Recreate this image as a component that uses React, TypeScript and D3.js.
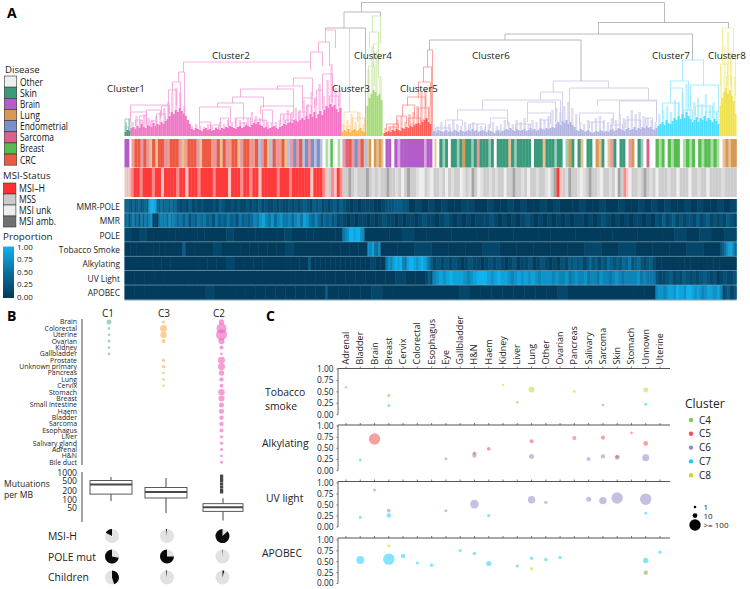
import React from "react";
import * as d3 from "d3";

const FONT = "'Open Sans', sans-serif";

// ---------- Panel A data ----------
const clusterColors = ["#3f9a7a", "#f272c4", "#fdb54e", "#a3dc72", "#ff5f57", "#b4b4e0", "#4ddcfb", "#efe24e"];
const clusterLight = ["#7fc0a8", "#f59ed8", "#fbd08e", "#c4e6a0", "#fb8f8a", "#c6c6e8", "#93e8fb", "#f3ea86"];
const clusterNames = ["Cluster1", "Cluster2", "Cluster3", "Cluster4", "Cluster5", "Cluster6", "Cluster7", "Cluster8"];
const clusterSpans = [[124, 130], [130, 341], [341, 365], [366, 382], [383, 431], [431, 657], [657, 719], [719, 736]];

const solidHeights = [
  [4, 6, 5],
  [8, 9, 7, 10, 8, 12, 9, 8, 11, 10, 9, 13, 10, 12, 11, 14, 12, 15, 17, 20, 24, 22, 26, 24, 28, 25, 22, 20, 16, 12, 7, 6, 8, 7, 6, 5, 7, 8, 6, 7, 5, 6, 8, 7, 6, 8, 7, 9, 8, 10, 9, 8, 7, 9, 10, 8, 9, 11, 10, 9, 11, 13, 12, 14, 11, 10, 8, 9, 7, 8, 9, 10, 8, 7, 9, 10, 12, 11, 13, 14, 13, 16, 15, 14, 16, 18, 16, 20, 17, 22, 19, 24, 18, 22, 25, 21, 26, 30, 28, 32, 29, 31, 27, 24, 28],
  [4, 6, 5, 7, 4, 6, 7, 5, 6, 8, 5, 4],
  [30, 38, 42, 46, 44, 40, 42, 36],
  [3, 4, 5, 4, 6, 5, 7, 6, 5, 8, 7, 9, 8, 10, 9, 11, 12, 13, 11, 14, 16, 18, 14, 12],
  [4, 5, 4, 6, 5, 4, 5, 6, 4, 5, 4, 6, 5, 4, 6, 5, 4, 5, 6, 5, 7, 5, 6, 4, 5, 6, 5, 4, 6, 5, 4, 3, 5, 6, 4, 5, 6, 7, 6, 8, 6, 5, 7, 6, 5, 6, 7, 5, 6, 8, 6, 7, 5, 6, 8, 7, 6, 8, 7, 8, 9, 8, 12, 14, 11, 15, 13, 16, 12, 14, 11, 9, 6, 5, 7, 6, 4, 5, 6, 4, 3, 4, 5, 4, 6, 5, 4, 5, 4, 6, 7, 5, 6, 8, 7, 6, 5, 7, 8, 6, 7, 9, 6, 8, 7, 9, 8, 10, 8, 9, 7, 6, 8],
  [10, 12, 14, 11, 16, 13, 12, 15, 18, 16, 20, 17, 22, 18, 24, 20, 17, 14, 16, 19, 14, 18, 16, 20, 15, 18, 16, 14, 17, 15, 12],
  [30, 38, 44, 48, 42, 46, 40, 35, 22],
];
const paleHeights = [
  [14, 17],
  [14, 20, 16, 22, 18, 16, 20, 24, 28, 34, 44, 48, 44, 30, 16, 10, 12, 10, 9, 12, 10, 9, 14, 12, 16, 14, 18, 16, 14, 18, 24, 20, 18, 16, 14, 14, 14, 16, 22, 26, 24, 28, 26, 36, 32, 44, 38, 52, 40, 56, 72, 48, 46],
  [12, 16, 22, 14, 24, 12],
  [66, 90, 84, 60],
  [8, 10, 12, 16, 20, 14, 22, 24, 30, 44, 46, 30],
  [12, 10, 14, 10, 12, 16, 12, 10, 14, 12, 14, 12, 10, 9, 12, 14, 10, 12, 16, 14, 12, 16, 14, 18, 12, 16, 14, 18, 16, 20, 26, 28, 24, 30, 34, 28, 22, 14, 12, 16, 14, 18, 20, 16, 14, 18, 16, 22, 18, 20, 26, 22, 24, 20, 18, 16, 14],
  [22, 26, 30, 24, 36, 34, 44, 52, 40, 34, 38, 32, 42, 30, 34, 26],
  [70, 90, 104, 84, 60],
];

// merges: left leaf, right leaf, merge height, left child height, right child height
const greyMerges = [
  [361, 664, 133.5, 124, 113.5], [343.5, 380, 124, 108, 120], [325, 365, 108, 106, 0],
  [598, 728, 113.5, 102, 108], [504.5, 692, 102, 96, 76], [429, 580.5, 96, 86, 55],
];
const merges = [
  [[124.5, 129.5, 17, 4, 4], [125, 128, 9, 4, 3]],
  [[325, 335, 106, 94, 88], [318, 329, 94, 84, 70], [310, 322, 84, 74, 70], [183, 310, 74, 64, 66], [178, 184, 64, 54, 0],
   [172, 180, 54, 44, 26], [168, 176, 46, 32, 30], [130, 169, 31, 20, 22], [130, 146, 24, 14, 12], [146, 160, 26, 15, 18], [135, 142, 16, 10, 9], [150, 156, 15, 10, 10],
   [139, 146, 20, 12, 11], [156, 165, 22, 14, 14], [161, 168, 30, 20, 18],
   [293, 312, 58, 50, 40], [277, 302, 50, 47, 36], [240, 293, 47, 39, 30], [232, 263, 39, 33, 28], [217, 243, 33, 29, 16], [199, 230, 29, 14, 13],
   [260, 293, 30, 22, 18], [262, 272, 26, 14, 13], [280, 290, 22, 12, 12], [199, 210, 14, 8, 8], [220, 228, 18, 9, 8], [235, 250, 18, 10, 10], [302, 314, 38, 26, 28], [306, 311, 30, 20, 22], [322, 332, 62, 38, 34], [329, 338, 40, 28, 30], [316, 322, 46, 30, 26],
   [254, 266, 16, 9, 9], [285, 296, 16, 10, 10], [298, 306, 24, 14, 14], [210, 218, 11, 7, 7], [240, 246, 13, 8, 8]],
  [[349, 349, 108, 24, 24], [343.5, 357, 24, 8, 14], [352, 364, 18, 7, 6], [346, 350, 10, 5, 5]],
  [[372, 380, 120, 104, 92], [369, 378, 104, 88, 72], [373, 378, 92, 70, 58], [368, 374, 70, 50, 50]],
  [[427, 432, 86, 69, 0], [423, 431, 69, 54, 0], [418, 430, 54, 38, 30], [407, 425, 39, 30, 28], [402, 414, 31, 20, 18], [396, 406, 20, 10, 12], [386, 398, 12, 6, 8], [408, 420, 18, 10, 8], [418, 428, 28, 12, 16], [390, 396, 9, 5, 5], [410, 416, 12, 6, 7], [421, 427, 16, 9, 9]],
  [[552.7, 608, 55, 44, 48], [540, 562, 44, 36, 14], [482, 560, 36, 26, 14], [457, 507, 26, 16, 12], [445, 462, 16, 8, 10], [435, 450, 8, 4, 4],
   [527, 555, 34, 23, 14], [527, 550, 23, 14, 12], [490, 507, 18, 8, 10], [470, 485, 12, 6, 6], [515, 530, 12, 6, 6], [540, 548, 16, 8, 8],
   [569, 648, 48, 10, 36], [597, 656, 36, 30, 16], [619, 656, 35, 20, 14], [579, 613, 23, 12, 12], [589, 603, 14, 8, 8], [625, 640, 16, 8, 8], [645, 652, 18, 10, 8], [610, 622, 11, 6, 6]],
  [[682, 703, 76, 55, 51], [670, 688, 55, 48, 26], [690, 718, 51, 30, 24], [662, 678, 33, 18, 18], [670, 682, 48, 33, 22], [695, 712, 30, 20, 18], [683, 692, 26, 16, 16], [705, 716, 24, 12, 12]],
  [[722, 733, 108, 71, 80], [720, 727, 72, 50, 50], [730, 735, 82, 50, 40], [726, 731, 60, 40, 40]],
];

const diseaseNames = ["Other", "Skin", "Brain", "Lung", "Endometrial", "Sarcoma", "Breast", "CRC"];
const diseaseLegendColors = ["#eef0ee", "#3a9b7c", "#b45cc9", "#d69a52", "#7b8fc8", "#dc5f8d", "#58bd50", "#ed5a43"];
const diseaseWidths = [23, 17, 20, 20, 48, 34, 24, 16];
const msiNames = ["MSI\u2013H", "MSS", "MSI unk", "MSI amb."];
const msiLegendColors = ["#ff3030", "#cbcbcb", "#eeeeee", "#707070"];
const msiWidths = [26, 17, 32, 37];

const stripColors: Record<string, [string, number]> = {
  O: ["#eef0ee", 1], o: ["#ffffff", 1], S: ["#3a9b7c", 1], s: ["#3a9b7c", 0.5], B: ["#b45cc9", 1], b: ["#b45cc9", 0.55],
  L: ["#d69a52", 1], l: ["#d69a52", 0.6], E: ["#7b8fc8", 1], e: ["#7b8fc8", 0.55], M: ["#dc5f8d", 1], m: ["#dc6f7d", 0.7],
  R: ["#58bd50", 1], r: ["#58bd50", 0.5], C: ["#ed5a43", 1], c: ["#ed5a43", 0.6],
};
const msiStripColors: Record<string, string> = {
  H: "#ff3a3a", h: "#fb8a8a", p: "#fcc4c0", S: "#cdcdcd", s: "#dedede", u: "#eeeeee", a: "#a5a5a5",
};
const diseaseStrip: [number, number, string][] = [
  [124, 129, "BB"], [129, 131, "o"],
  [131, 325, "cCCmCmlClCCmcCCCmlcCCCmlCCCcmClCmcCClmCCmcCemCleCmcClemEmCeEmEeEeo"],
  [325, 342, "rOROorO"], [342, 366, "mMCmEmCe"], [366, 383, "lLoLlLl"], [383, 385, "o"],
  [385, 432, "BBoBbBBBBBBBBbBB"], [432, 436, "ol"],
  [436, 565, "oSsSoSSsSLSSsSmSSSsSoSSSSlSsSSSSSoSSSlSSSsSSo"],
  [565, 655, "sLSoSloSSoLlSolmSoSSomLoSsoMoo"],
  [655, 722, "RrRoRrRRorRrRoRrRRrRro"], [722, 736, "lLlLL"],
];
const msiStrip: [number, number, string][] = [
  [124, 130, "pSp"],
  [130, 322, "hHHhHHHhHHpHHHHhHHpHHHhHHHHhHHHHpHHHhHHhHHpHHHHHhHHHhHHHHHHpHHH"],
  [322, 342, "hpShpHh"],
  [342, 430, "SSaSsSSSaSsSsSSaSSsSuSaSSsuuSs"],
  [430, 553, "uSSsSuSsSSusSsaSusSSsSsSSuSSaSSsSuSSsSSsuS"],
  [553, 562, "aHp"],
  [562, 623, "SsaSSsusSaSSsuSSsSuaS"], [623, 628, "hp"],
  [628, 736, "uSSsSaSsSuSSSsSSuSSSuSSsSSuSSSSsSSSS"],
];

const signatureNames = ["MMR-POLE", "MMR", "POLE", "Tobacco Smoke", "Alkylating", "UV Light", "APOBEC"];
const signatureRows: [number, number, string][][] = [
  [[124, 148, "343242342343"], [148, 156, "8998"], [156, 176, "4353443534"], [176, 300, "21213121211121321121211212131211212112121"], [300, 345, "232132312123132"], [345, 385, "1010111001"], [385, 408, "22233322"], [408, 736, "01010100110010010100101000100100100101010010100101"]],
  [[124, 148, "352463526364"], [148, 152, "67"], [152, 158, "010"], [158, 176, "565647565"], [176, 250, "4535243545342534353425343"], [250, 285, "465786574675"], [285, 320, "564675875464"], [320, 342, "24342312"], [342, 430, "1010110101211010110121"], [430, 655, "10121010101112101010121010101010110101210101011010"], [655, 736, "213123121221312312121321"]],
  [[124, 342, "101000000000001000000010000000"], [342, 364, "5679989976"], [364, 736, "000100000000000000000000010101"]],
  [[124, 182, "0000000000"], [182, 185, "3"], [185, 367, "00010000000100000000"], [367, 380, "768547"], [380, 720, "00100010000010100010"], [720, 736, "23578864"]],
  [[124, 308, "00000000000100000000"], [308, 310, "3"], [310, 385, "000000000000100"], [385, 432, "57689896589987898753"], [432, 568, "1212121012110121210120112012101021"], [568, 570, "3"], [570, 655, "2323124231324323243523421231"], [655, 736, "00000000000000"]],
  [[124, 425, "000000000000000000000000000100"], [425, 432, "131"], [432, 568, "6787898887678999878988767878787677767667"], [568, 655, "5676675665766567656666756555"], [655, 736, "211231213212123212012112"]],
  [[124, 325, "00000000100000000000"], [325, 327, "3"], [327, 655, "000010000000100000000100000000"], [655, 722, "67767887988799878767887786"], [722, 736, "123112"]],
];
const proportionTicks = [1, 0.75, 0.5, 0.25, 0];

// ---------- Panel B data ----------
const diseaseList = ["Brain", "Colorectal", "Uterine", "Ovarian", "Kidney", "Gallbladder", "Prostate", "Unknown primary", "Pancreas", "Lung", "Cervix", "Stomach", "Breast", "Small Intestine", "Haem", "Bladder", "Sarcoma", "Esophagus", "Liver", "Salivary gland", "Adrenal", "H&N", "Bile duct"];
const countsC1 = [12, 1, 1, 1, 1, 1];
const countsC3 = [2, 30, 24, 6, 0, 0, 3, 3, 1, 1, 1];
const countsC2 = [15, 74, 92, 20, 6, 1, 30, 30, 15, 8, 6, 24, 20, 12, 12, 8, 8, 6, 3, 3, 2, 1, 2];
const boxColumns = ["C1", "C3", "C2"];
const boxStats = [
  { lo: 88, q1: 160, med: 360, q3: 505, hi: 680 },
  { lo: 32, q1: 115, med: 190, q3: 280, hi: 625 },
  { lo: 17, q1: 37, med: 52, q3: 71, hi: 113 },
];
const outliersC2 = [742, 600, 485, 375, 290, 225, 190];
const mutationTicks = [1000, 500, 200, 100, 50];
const pieRows = ["MSI-H", "POLE mut", "Children"];
const pieFractions = [
  [-0.17, -0.02, -0.87],
  [-0.72, -0.75, -0.01],
  [0.45, -0.02, 0.04],
];

// ---------- Panel C data ----------
const tissues = ["Adrenal", "Bladder", "Brain", "Breast", "Cervix", "Colorectal", "Esophagus", "Eye", "Gallbladder", "H&N", "Haem", "Kidney", "Liver", "Lung", "Other", "Ovarian", "Pancreas", "Salivary", "Sarcoma", "Skin", "Stomach", "Unnown", "Uterine"];
const signatureLabels = [["Tobacco", "smoke"], ["Alkylating"], ["UV light"], ["APOBEC"]];
const clusterLegend = ["C4", "C5", "C6", "C7", "C8"];
const bubbleColors: Record<string, string> = { C4: "#7ed04f", C5: "#f4504c", C6: "#8f8ec8", C7: "#1cd0fb", C8: "#d4d42c" };
type B = [string, number, string, number];
const tobaccoPoints: B[] = [["Adrenal", 0.6, "C4", 1], ["Breast", 0.42, "C4", 3], ["Breast", 0.2, "C7", 2], ["Kidney", 0.65, "C8", 1], ["Liver", 0.27, "C4", 1], ["Lung", 0.55, "C8", 20], ["Pancreas", 0.51, "C8", 2], ["Sarcoma", 0.21, "C6", 1], ["Unnown", 0.54, "C8", 12], ["Unnown", 0.23, "C7", 2]];
const alkylatingPoints: B[] = [["Brain", 0.71, "C5", 100], ["Bladder", 0.24, "C7", 2], ["Eye", 0.27, "C6", 2], ["H&N", 0.39, "C5", 4], ["H&N", 0.34, "C6", 8], ["Haem", 0.49, "C5", 5], ["Lung", 0.66, "C5", 6], ["Lung", 0.32, "C6", 12], ["Pancreas", 0.73, "C5", 6], ["Salivary", 0.26, "C6", 6], ["Sarcoma", 0.74, "C5", 6], ["Sarcoma", 0.32, "C6", 8], ["Skin", 0.3, "C6", 12], ["Skin", 0.31, "C5", 3], ["Stomach", 0.85, "C5", 1], ["Unnown", 0.61, "C5", 10], ["Unnown", 0.29, "C6", 30]];
const uvPoints: B[] = [["Brain", 0.84, "C6", 2], ["Bladder", 0.22, "C7", 2], ["Breast", 0.37, "C6", 5], ["Breast", 0.26, "C7", 8], ["Eye", 0.37, "C6", 2], ["H&N", 0.52, "C6", 50], ["Haem", 0.26, "C7", 3], ["Lung", 0.62, "C6", 35], ["Other", 0.56, "C6", 3], ["Salivary", 0.63, "C6", 12], ["Sarcoma", 0.6, "C6", 35], ["Skin", 0.66, "C6", 100], ["Unnown", 0.63, "C6", 100], ["Unnown", 0.32, "C7", 2]];
const apobecPoints: B[] = [["Bladder", 0.54, "C7", 40], ["Breast", 0.56, "C7", 100], ["Breast", 0.87, "C8", 2], ["Cervix", 0.63, "C7", 8], ["Colorectal", 0.47, "C7", 2], ["Esophagus", 0.42, "C7", 3], ["Gallbladder", 0.76, "C7", 2], ["H&N", 0.69, "C7", 4], ["Haem", 0.46, "C7", 12], ["Liver", 0.4, "C7", 2], ["Lung", 0.58, "C7", 3], ["Lung", 0.34, "C8", 4], ["Other", 0.55, "C7", 4], ["Ovarian", 0.6, "C7", 3], ["Unnown", 0.53, "C7", 15], ["Unnown", 0.25, "C6", 8], ["Unnown", 0.25, "C8", 3], ["Uterine", 0.72, "C7", 3]];
const signaturePoints = [tobaccoPoints, alkylatingPoints, uvPoints, apobecPoints];
const yTicks = [1, 0.75, 0.5, 0.25, 0];
const sizeLegend: [number, string][] = [[1, "1"], [10, "10"], [100, ">= 100"]];

// ---------- Scales ----------
const xLeaf = d3.scaleLinear().domain([124, 736]).range([124.5, 736.5]);
const yDist = d3.scaleLinear().domain([0, 136]).range([136, 0]);
const rSize = d3.scaleSqrt().domain([1, 100]).range([1.3, 5.7]).clamp(true);
const heat = d3.scaleLinear<string>().domain([0, 0.5, 1]).range(["#023b5b", "#0a6f9e", "#0fb2ee"]);
const yMut = d3.scaleLog().domain([15, 1000]).range([522, 472.5]);
const xTissue = d3.scalePoint().domain(tissues).range([346, 660]);
const yDisease = d3.scalePoint().domain(diseaseList).range([322, 462.3]);
const arc = d3.arc();

function Strip({ segs, top, h, fill }: { segs: [number, number, string][]; top: number; h: number; fill: (c: string) => [string, number] }) {
  return (
    <g>
      {segs.map(([a, b, s], i) => {
        const band = d3.scaleBand<number>().domain(d3.range(s.length)).range([xLeaf(a), xLeaf(b)]);
        return s.split("").map((c, j) => {
          const [col, op] = fill(c);
          return <rect key={i + "-" + j} x={band(j)} y={top} width={band.bandwidth() + 0.3} height={h} fill={col} fillOpacity={op} />;
        });
      })}
    </g>
  );
}

function Mass({ data, span, color, opacity, fillRatio }: { data: number[]; span: number[]; color: string; opacity: number; fillRatio: number }) {
  const band = d3.scaleBand<number>().domain(d3.range(data.length)).range([xLeaf(span[0]), xLeaf(span[1])]);
  return (
    <g>
      {data.map((h, i) => (
        <rect key={i} x={band(i)! + band.bandwidth() * (1 - fillRatio) / 2} y={yDist(h)} width={band.bandwidth() * fillRatio} height={yDist(0) - yDist(h)} fill={color} fillOpacity={opacity} />
      ))}
    </g>
  );
}

function Merge({ m, color, width }: { m: number[]; color: string; width: number }) {
  const [l, r, h, hl, hr] = m;
  const p = d3.path();
  p.moveTo(xLeaf(l), yDist(hl));
  p.lineTo(xLeaf(l), yDist(h));
  p.lineTo(xLeaf(r), yDist(h));
  p.lineTo(xLeaf(r), yDist(hr));
  return <path d={p.toString()} fill="none" stroke={color} strokeWidth={width} />;
}

function PanelA() {
  const rowStep = 14.4;
  return (
    <g>
      <text x={7} y={18} fontSize={14} fontWeight={700}>A</text>
      {solidHeights.map((d, i) => (
        <g key={i}>
          <Mass data={paleHeights[i]} span={clusterSpans[i]} color={clusterLight[i]} opacity={0.6} fillRatio={0.6} />
          {merges[i].map((m, j) => <Merge key={j} m={m} color={clusterLight[i]} width={0.8} />)}
          <Mass data={d} span={clusterSpans[i]} color={clusterColors[i]} opacity={1} fillRatio={1} />
        </g>
      ))}
      {greyMerges.map((m, i) => <Merge key={i} m={m} color="#a8a8a8" width={0.8} />)}
      {clusterNames.map((n, i) => (
        <text key={n} x={[107, 212, 332, 354, 400, 472, 652, 708][i]} y={[92, 59, 92, 59, 92, 59, 59, 59][i]} fontSize={9.8} fill="#222">{n}</text>
      ))}
      <Strip segs={diseaseStrip} top={139} h={28.5} fill={(c) => stripColors[c]} />
      <Strip segs={msiStrip} top={168} h={29} fill={(c) => [msiStripColors[c], 1]} />
      <rect x={xLeaf(124)} y={199} width={xLeaf(736) - xLeaf(124)} height={101.5} fill="#7fa8ba" />
      {signatureRows.map((segs, r) => (
        <g key={r}>
          <Strip segs={segs} top={199 + r * rowStep} h={r === 6 ? 14 : rowStep - 0.7} fill={(c) => [heat(+c / 9), 1]} />
          <text x={120} y={207 + r * rowStep + 2.8} textAnchor="end" fontSize={8.4} fill="#222">{signatureNames[r]}</text>
        </g>
      ))}

      <text x={5} y={73} fontSize={9.6} fill="#222">Disease</text>
      {diseaseNames.map((n, i) => (
        <g key={n}>
          <rect x={4.3} y={76 + i * 11.15} width={12.4} height={11.15} fill={diseaseLegendColors[i]} stroke="#333" strokeWidth={0.6} />
          <text x={20} y={85.5 + i * 11.15} fontSize={10.5} textLength={diseaseWidths[i]} lengthAdjust="spacingAndGlyphs" fill="#111">{n}</text>
        </g>
      ))}
      <text x={3} y={178.5} fontSize={9.6} fill="#222">MSI-Status</text>
      {msiNames.map((n, i) => (
        <g key={n}>
          <rect x={3.5} y={183 + i * 11} width={12.4} height={11} fill={msiLegendColors[i]} stroke="#333" strokeWidth={0.6} />
          <text x={19} y={192.3 + i * 11} fontSize={10.5} textLength={msiWidths[i]} lengthAdjust="spacingAndGlyphs" fill="#111">{n}</text>
        </g>
      ))}
      <text x={3} y={240} fontSize={9.8} fill="#222">Proportion</text>
      <defs>
        <linearGradient id="prop" x1="0" y1="0" x2="0" y2="1">
          {proportionTicks.map((t) => <stop key={t} offset={1 - t} stopColor={heat(t)} />)}
        </linearGradient>
      </defs>
      <rect x={3} y={246.5} width={11} height={51.5} fill="url(#prop)" />
      {proportionTicks.map((t, i) => (
        <text key={t} x={17} y={249.5 + i * 12.6} fontSize={8} fill="#222">{t.toFixed(2)}</text>
      ))}
    </g>
  );
}

function PanelB() {
  const cols = [109, 163.5, 221.5];
  const pieCols = [112, 167, 222.5];
  const boxX = [[90, 132], [145, 187], [203, 243]];
  const titleX = [108, 164, 219];
  const dotCols: [number, number[], string][] = [
    [cols[0], countsC1, "#6db399"],
    [cols[1], countsC3, "#fdb050"],
    [cols[2], countsC2, "#ef62bb"],
  ];
  return (
    <g>
      <text x={7} y={321} fontSize={14} fontWeight={700}>B</text>
      {boxColumns.map((c, i) => <text key={c} x={titleX[i]} y={316.5} textAnchor="middle" fontSize={10} fill="#222">{c}</text>)}
      <line x1={82} x2={82} y1={319} y2={465} stroke="#333" strokeWidth={0.9} />
      {diseaseList.map((d) => (
        <text key={d} x={77} y={yDisease(d)! + 2.4} textAnchor="end" fontSize={6.9} fill="#222">{d}</text>
      ))}
      {dotCols.map(([x, vals, col], k) => (
        <g key={k}>
          {vals.map((v, i) => v > 0 && <circle key={i} cx={x} cy={yDisease(diseaseList[i])} r={rSize(v)} fill={col} fillOpacity={0.62} />)}
        </g>
      ))}
      <line x1={82} x2={82} y1={472} y2={522} stroke="#333" strokeWidth={0.9} />
      {mutationTicks.map((t) => (
        <text key={t} x={77} y={yMut(t) + 3} textAnchor="end" fontSize={8.6} fill="#222">{t}</text>
      ))}
      <text x={4} y={487} fontSize={8.6} fill="#222">Mutuations</text>
      <text x={4} y={498} fontSize={8.6} fill="#222">per MB</text>
      {boxStats.map((b, i) => {
        const mid = (boxX[i][0] + boxX[i][1]) / 2;
        return (
          <g key={i} stroke="#484848" fill="none">
            <line x1={mid} x2={mid} y1={yMut(b.hi)} y2={yMut(b.q3)} strokeWidth={1} />
            <line x1={mid} x2={mid} y1={yMut(b.q1)} y2={yMut(b.lo)} strokeWidth={1} />
            <rect x={boxX[i][0]} y={yMut(b.q3)} width={boxX[i][1] - boxX[i][0]} height={yMut(b.q1) - yMut(b.q3)} fill="#fff" strokeWidth={0.9} />
            <line x1={boxX[i][0]} x2={boxX[i][1]} y1={yMut(b.med)} y2={yMut(b.med)} strokeWidth={2} />
          </g>
        );
      })}
      {outliersC2.map((o) => <rect key={o} x={220} y={yMut(o) - 1.4} width={3.2} height={2.8} fill="#444" />)}
      {pieRows.map((r, i) => (
        <g key={r}>
          <text x={48} y={[540, 560.5, 581][i]} fontSize={10.4} fill="#222">{r}</text>
          {pieFractions[i].map((f, j) => {
            const cy = [536, 556.5, 577.5][i];
            return (
              <g key={j} transform={`translate(${pieCols[j]},${cy})`}>
                <circle r={7} fill="#e2e2e2" />
                <path d={arc({ innerRadius: 0, outerRadius: 7, startAngle: 0, endAngle: f * 2 * Math.PI } as any)!} fill="#0a0a0a" />
              </g>
            );
          })}
        </g>
      ))}
    </g>
  );
}

function PanelC() {
  const tops = [369, 426, 483, 540];
  const bots = [414.7, 470.7, 527, 583.5];
  const lines = [368.5, 425, 481.5, 538];
  const labelX = [265, 262, 266, 262];
  const labelY = [396, 447, 502, 557];
  return (
    <g>
      <text x={266} y={321} fontSize={14} fontWeight={700}>C</text>
      {tissues.map((t) => (
        <text key={t} transform={`translate(${xTissue(t)! + 3},364.5) rotate(-90)`} fontSize={9} fill="#222">{t}</text>
      ))}
      {signaturePoints.map((pts, i) => {
        const y = d3.scaleLinear().domain([0, 1]).range([bots[i], tops[i]]);
        return (
          <g key={i}>
            {signatureLabels[i].map((l, k) => (
              <text key={l} x={labelX[i]} y={labelY[i] + k * 14} fontSize={10.4} fill="#222">{l}</text>
            ))}
            <line x1={338} x2={670} y1={lines[i]} y2={lines[i]} stroke="#555" strokeWidth={1.2} />
            <line x1={338} x2={338} y1={lines[i]} y2={bots[i]} stroke="#444" strokeWidth={0.8} />
            {tissues.map((t) => <line key={t} x1={xTissue(t)} x2={xTissue(t)} y1={lines[i]} y2={lines[i] - 2} stroke="#444" strokeWidth={0.7} />)}
            {yTicks.map((t) => (
              <g key={t}>
                <line x1={336.5} x2={338} y1={y(t)} y2={y(t)} stroke="#444" strokeWidth={0.7} />
                <text x={333.5} y={y(t) + 2.9} textAnchor="end" fontSize={8.4} fill="#222">{t.toFixed(2)}</text>
              </g>
            ))}
            {pts.map(([tissue, v, c, n], k) => (
              <circle key={k} cx={xTissue(tissue)} cy={y(v)} r={rSize(n)} fill={bubbleColors[c]} fillOpacity={0.55} />
            ))}
          </g>
        );
      })}
      <text x={685} y={408} fontSize={12} fill="#222">Cluster</text>
      {clusterLegend.map((c, i) => (
        <g key={c}>
          <circle cx={691} cy={420 + i * 13.8} r={2.2} fill={bubbleColors[c]} />
          <text x={699} y={423.5 + i * 13.8} fontSize={10} fill="#222">{c}</text>
        </g>
      ))}
      {sizeLegend.map(([n, l], i) => (
        <g key={l}>
          <circle cx={695} cy={[507, 515.6, 525][i]} r={rSize(n)} fill="#000" />
          <text x={703.5} y={[510, 518.6, 528][i]} fontSize={8} fill="#222">{l}</text>
        </g>
      ))}
    </g>
  );
}

export default function App() {
  return (
    <svg width={750} height={589} viewBox="0 0 750 589" style={{ position: "absolute", left: 0, top: 0, background: "#fff", fontFamily: FONT }}>
      <PanelA />
      <PanelB />
      <PanelC />
    </svg>
  );
}
